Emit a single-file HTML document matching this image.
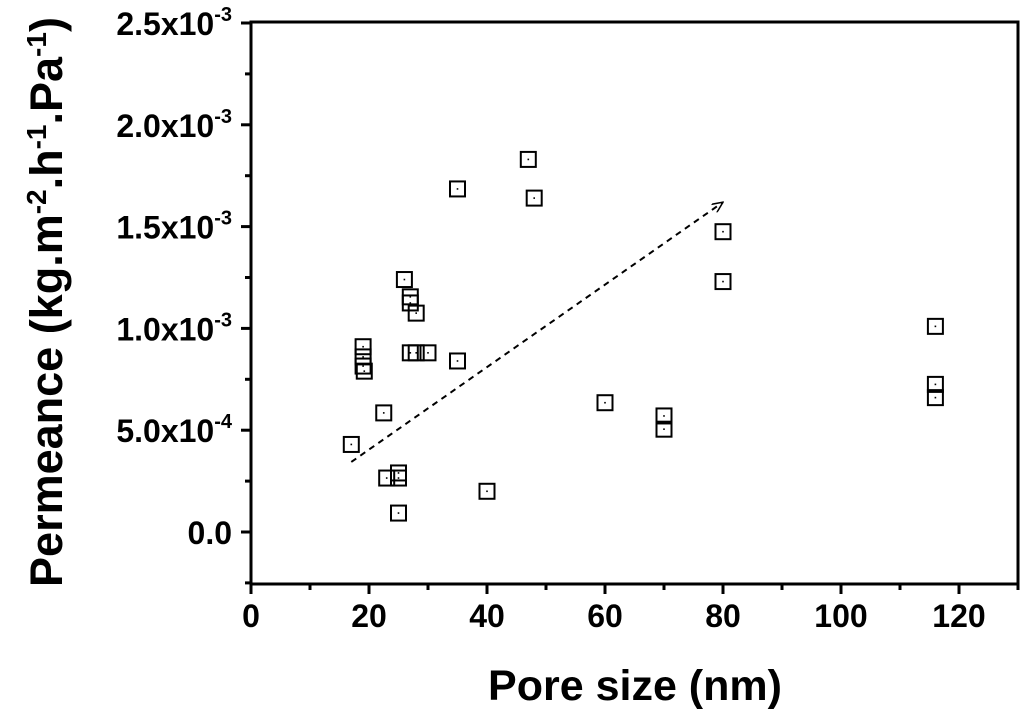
<!DOCTYPE html>
<html><head><meta charset="utf-8"><style>
html,body{margin:0;padding:0;background:#fff;}
svg text{font-family:"Liberation Sans",Arial,sans-serif;font-weight:bold;fill:#000;}
</style></head><body>
<svg id="chart" width="1024" height="716" viewBox="0 0 1024 716" xmlns="http://www.w3.org/2000/svg">
<g id="axes"></g><g id="marks"></g>
<text x="635" y="700" font-size="43" text-anchor="middle">Pore size (nm)</text>
<text transform="translate(62,302) rotate(-90)" font-size="45" text-anchor="middle">Permeance (kg.m<tspan dy="-16" font-size="28">-2</tspan><tspan dy="16">.h</tspan><tspan dy="-16" font-size="28">-1</tspan><tspan dy="16">.Pa</tspan><tspan dy="-16" font-size="28">-1</tspan><tspan dy="16">)</tspan></text>
</svg>
<script>
const poreSize=[17,19,19,19,19.2,22.5,23,25,25,25,26,27,27,28,27,28,30,35,35,40,47,48,60,70,70,80,80,116,116,116];
const permeance=[0.43,0.91,0.86,0.815,0.79,0.585,0.265,0.29,0.265,0.093,1.24,1.155,1.125,1.075,0.88,0.88,0.88,1.685,0.84,0.2,1.83,1.64,0.635,0.57,0.505,1.475,1.23,1.01,0.725,0.66];
const xTicks=[0,20,40,60,80,100,120];
const yTicks=[0,0.5,1.0,1.5,2.0,2.5];
const yLabels=["0.0","5.0x10","1.0x10","1.5x10","2.0x10","2.5x10"];
const yExp=["","-4","-3","-3","-3","-3"];
const arrowX=[17,80], arrowY=[0.344,1.62];
const NS="http://www.w3.org/2000/svg";
const L=251,R=1018,T=22,B=584;
const xs=v=>251+v*5.9;
const ys=v=>532-v*203.6;
function mk(tag,attrs,parent){const e=document.createElementNS(NS,tag);for(const k in attrs)e.setAttribute(k,attrs[k]);parent.appendChild(e);return e;}
const ax=document.getElementById('axes'), mg=document.getElementById('marks');
let fr=mk('rect',{x:L,y:T,width:R-L,height:B-T,fill:'none',stroke:'#000','stroke-width':3},ax);


for(let v=0;v<=130;v+=10){const big=v%20===0;const t=mk('line',{x1:xs(v),x2:xs(v),y1:B,y2:B+(big?10:6),stroke:'#000','stroke-width':3},ax);

}
xTicks.forEach(v=>{const t=mk('text',{x:xs(v),y:627,'font-size':32,'text-anchor':'middle'},ax);t.textContent=v;

});
for(let v=-0.25;v<=2.51;v+=0.25){const big=Math.abs(v*2-Math.round(v*2))<1e-6;const yy=ys(v);if(yy<T-1)continue;const t=mk('line',{x1:L-(big?10:6),x2:L,y1:yy,y2:yy,stroke:'#000','stroke-width':3},ax);

}
yTicks.forEach((v,i)=>{const t=mk('text',{x:yExp[i]?212:232,y:ys(v)+12,'font-size':32,'text-anchor':'start'},ax);t.textContent=yLabels[i];
if(yExp[i]){const s=mk('tspan',{dy:-14,'font-size':20},t);s.textContent=yExp[i];}
t.setAttribute('text-anchor','end');
t.setAttribute('x',232);

});
const defs=mk('defs',{},document.getElementById('chart'));
const m=mk('marker',{id:'ah',markerWidth:12,markerHeight:10,refX:11,refY:5,orient:'auto',markerUnits:'userSpaceOnUse'},defs);
mk('path',{d:'M0,0 L11,5 L0,10',fill:'none',stroke:'#000','stroke-width':1.5},m);
const ar=mk('line',{x1:xs(arrowX[0]),y1:ys(arrowY[0]),x2:xs(arrowX[1]),y2:ys(arrowY[1]),stroke:'#000','stroke-width':2,'stroke-dasharray':'6,5','marker-end':'url(#ah)'},mg);


poreSize.forEach((x,i)=>{const cx=xs(x),cy=ys(permeance[i]);
const r=mk('rect',{x:cx-7.5,y:cy-7.5,width:15,height:15,fill:'none',stroke:'#000','stroke-width':2},mg);


mk('rect',{x:cx-0.8,y:cy-0.8,width:1.6,height:1.6,fill:'#000'},mg);});
</script>
</body></html>
